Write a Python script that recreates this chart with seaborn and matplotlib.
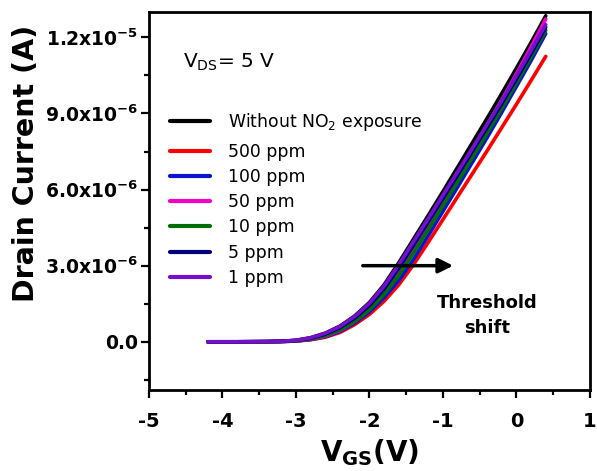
import numpy as np
import pandas as pd
import matplotlib
matplotlib.use("Agg")
import matplotlib.pyplot as plt
import seaborn as sns

# ---- data (current in units of 1e-6 A) ----
vgs = [-4.2, -3.8, -3.4, -3.2, -3.0, -2.8, -2.6, -2.4, -2.2, -2.0, -1.8, -1.6,
       -1.4, -1.2, -1.0, -0.8, -0.6, -0.4, -0.2, 0.0, 0.2, 0.4]
without_no2 = [0, 0, 0.01, 0.02, 0.06, 0.16, 0.34, 0.62, 1.02, 1.55, 2.25, 3.12,
               4.05, 4.98, 5.92, 6.88, 7.84, 8.80, 9.78, 10.78, 11.80, 12.85]
ppm500 = [0, 0, 0, 0.01, 0.03, 0.08, 0.18, 0.37, 0.68, 1.08, 1.60, 2.25,
          3.04, 3.92, 4.82, 5.72, 6.62, 7.52, 8.44, 9.36, 10.30, 11.25]
ppm100 = [0, 0, 0, 0.01, 0.03, 0.09, 0.20, 0.41, 0.74, 1.18, 1.74, 2.42,
          3.25, 4.18, 5.14, 6.10, 7.07, 8.04, 9.04, 10.06, 11.08, 12.15]
ppm50 = [0, 0, 0, 0.01, 0.04, 0.10, 0.22, 0.45, 0.80, 1.28, 1.92, 2.70,
         3.60, 4.56, 5.54, 6.52, 7.50, 8.50, 9.52, 10.56, 11.62, 12.72]
ppm10 = [0, 0, 0, 0.01, 0.04, 0.11, 0.24, 0.47, 0.80, 1.27, 1.88, 2.62,
         3.50, 4.42, 5.36, 6.30, 7.26, 8.22, 9.20, 10.20, 11.22, 12.28]
ppm5 = [0, 0, 0.01, 0.02, 0.05, 0.14, 0.30, 0.56, 0.93, 1.43, 2.08, 2.90,
        3.80, 4.72, 5.64, 6.56, 7.50, 8.44, 9.38, 10.36, 11.36, 12.40]
ppm1 = [0, 0, 0.01, 0.02, 0.06, 0.16, 0.34, 0.61, 1.00, 1.52, 2.20, 3.05,
        3.95, 4.86, 5.78, 6.70, 7.62, 8.56, 9.50, 10.48, 11.48, 12.50]

labels = ["Without NO$_2$ exposure", "500 ppm", "100 ppm", "50 ppm",
          "10 ppm", "5 ppm", "1 ppm"]
series = [without_no2, ppm500, ppm100, ppm50, ppm10, ppm5, ppm1]
colors = ["#000000", "#FF0000", "#0A14D2", "#F000C8", "#006E00", "#00007A", "#7410CC"]

ytick_vals = [0.0, 3e-6, 6e-6, 9e-6, 1.2e-5]
ytick_labels = ["0.0", "3.0x10^{-6}", "6.0x10^{-6}", "9.0x10^{-6}", "1.2x10^{-5}"]
xtick_vals = [-5, -4, -3, -2, -1, 0, 1]

rows = []
for lab, s in zip(labels, series):
    for v, i in zip(vgs, s):
        rows.append({"VGS": v, "ID": i * 1e-6, "cond": lab})
df = pd.DataFrame(rows)

sns.set_style("ticks")
plt.rcParams["font.family"] = ["DejaVu Sans"]
plt.rcParams["mathtext.fontset"] = "dejavusans"
for k in ["text.color", "axes.labelcolor", "xtick.color", "ytick.color", "axes.edgecolor"]:
    plt.rcParams[k] = "black"

fig = plt.figure(figsize=(5.97, 4.71), dpi=100)
ax = fig.add_axes([0.2496, 0.172, 0.7384, 0.8025])

sns.lineplot(data=df, x="VGS", y="ID", hue="cond", hue_order=labels,
             palette=dict(zip(labels, colors)), estimator=None, sort=False,
             linewidth=2.6, ax=ax, legend=True)

ax.set_xlim(-5, 1)
ax.set_ylim(-1.9e-6, 1.3e-5)
ax.set_xticks(xtick_vals)
ax.set_xticklabels([str(v) for v in xtick_vals], fontsize=14, fontweight="bold")
ax.set_xticks(np.arange(-4.5, 1.0, 1.0), minor=True)
ax.set_yticks(ytick_vals)
ax.set_yticklabels(["$\\mathbf{" + t + "}$" if "x" in t else t for t in ytick_labels],
                   fontsize=13.5, fontweight="bold")
ax.set_yticks([-1.5e-6, 1.5e-6, 4.5e-6, 7.5e-6, 10.5e-6], minor=True)

for sp in ax.spines.values():
    sp.set_visible(True)
    sp.set_linewidth(2.0)
    sp.set_color("black")
ax.tick_params(which="major", direction="out", length=6, width=1.6,
               top=False, right=False, colors="black")
ax.tick_params(axis="y", which="major", pad=2)
ax.tick_params(axis="x", which="major", pad=10)
ax.tick_params(which="minor", direction="out", length=3.5, width=1.6,
               top=False, right=False, colors="black")

ax.set_xlabel(r"$\mathbf{V_{GS}}$(V)", fontsize=20, fontweight="bold", labelpad=4)
ax.set_ylabel("Drain Current (A)", fontsize=20.5, fontweight="bold")
ax.yaxis.set_label_coords(-0.247, 0.60)

handles, labs = ax.get_legend_handles_labels()
leg_kw = dict(loc="upper left", frameon=False, fontsize=12.4, handlelength=2.3,
              handletextpad=1.05, labelspacing=0.42, borderpad=0, borderaxespad=0)
leg1 = ax.legend(handles[:1], labs[:1], bbox_to_anchor=(0.048, 0.737), **leg_kw)
for h in leg1.get_lines():
    h.set_linewidth(3.0)
ax.add_artist(leg1)
leg2 = ax.legend(handles[1:], labs[1:], bbox_to_anchor=(0.048, 0.654), **leg_kw)
for h in leg2.get_lines():
    h.set_linewidth(3.0)

ax.text(0.077, 0.852, r"V$_{\rm DS}$= 5 V", transform=ax.transAxes,
        fontsize=14.5, va="baseline", ha="left")

ax.annotate("", xy=(-0.86, 3.0e-6), xytext=(-2.09, 3.0e-6),
            arrowprops=dict(arrowstyle="-|>", lw=2.5, color="black",
                            mutation_scale=22, shrinkA=0, shrinkB=0))
ax.text(-0.40, 1.05e-6, "Threshold\nshift", fontsize=13, fontweight="bold",
        ha="center", va="center", linespacing=1.5)

fig.savefig("out.png", dpi=100)
